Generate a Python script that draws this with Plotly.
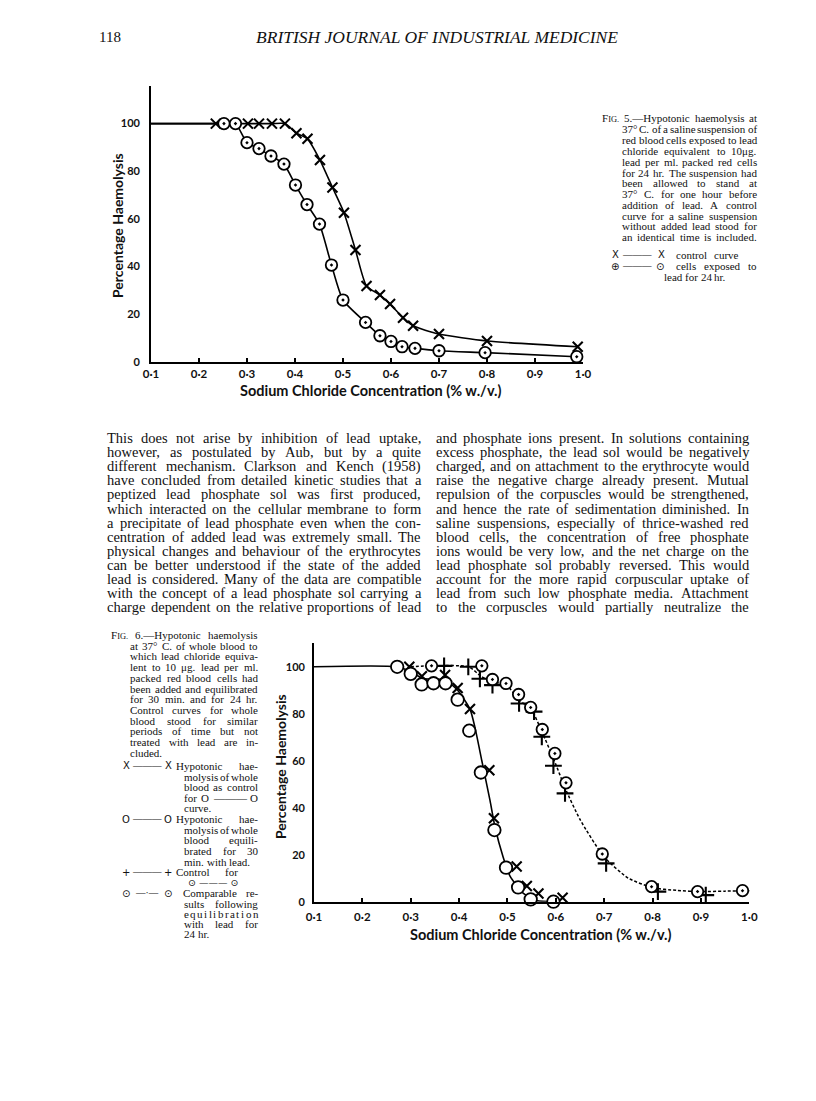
import plotly.graph_objects as go

W_PX, H_PX = 816, 1101
SERIF = "Liberation Serif"
SANS = "Lato"

# ---- Fig. 5 data (sodium chloride %, haemolysis %) ----
F5_LEAD_X = [0.252, 0.276, 0.300, 0.325, 0.350, 0.377, 0.401, 0.425, 0.451, 0.476,
             0.500, 0.547, 0.577, 0.600, 0.623, 0.650, 0.700, 0.796, 0.987]
F5_LEAD_Y = [100, 100, 92, 89.5, 86.4, 83, 74.2, 66, 57.8, 40.6,
             25.9, 16.5, 10.9, 8.5, 6.3, 5.6, 4.6, 3.8, 2.1]
F5_CTRL_X = [0.235, 0.302, 0.325, 0.352, 0.379, 0.403, 0.426, 0.452, 0.478, 0.502,
             0.526, 0.549, 0.577, 0.598, 0.625, 0.646, 0.700, 0.800, 0.989]
F5_CTRL_Y = [100, 100, 100, 100, 100, 96, 93.6, 84.7, 73.2, 62.6,
             46.9, 31.8, 28, 24.2, 18.5, 15.1, 11.6, 8.7, 6.3]

# ---- Fig. 6 data ----
F6_CTRL30_X = [0.297, 0.323, 0.371, 0.397, 0.4225, 0.4625, 0.472, 0.519, 0.540, 0.564, 0.614]
F6_CTRL30_Y = [100, 96, 96.5, 91, 82, 56, 35.5, 15, 6.7, 3.5, 1.7]
F6_LEAD30_X = [0.272, 0.300, 0.3226, 0.347, 0.372, 0.397, 0.421, 0.445, 0.473, 0.497,
               0.522, 0.548, 0.595]
F6_LEAD30_Y = [100, 97, 92.5, 93, 93, 86, 72.8, 55, 30.5, 14.5, 6.1, 1, 0]
F6_CTRL24_X = [0.369, 0.419, 0.443, 0.469, 0.524, 0.555, 0.571, 0.595, 0.619, 0.704,
               0.811, 0.910, 1.010]
F6_CTRL24_Y = [100.4, 100, 94.9, 92.2, 84.4, 80.9, 70.2, 57.9, 46.1, 16.3, 4.3, 2.8, 4.7]
F6_LEAD24_X = [0.343, 0.447, 0.469, 0.497, 0.523, 0.548, 0.572, 0.598, 0.621, 0.696,
               0.798, 0.893, 0.986]
F6_LEAD24_Y = [100.4, 100.4, 94.6, 92.9, 88.2, 82.7, 73.3, 63.1, 50.6, 20.3, 6.4, 4.3, 4.7]
# hand-drawn fitted curves
F6_SOLID_X = [0.1, 0.27, 0.30, 0.325, 0.37, 0.397, 0.4225, 0.433, 0.447, 0.464, 0.474,
              0.491, 0.505, 0.533, 0.56, 0.60]
F6_SOLID_Y = [100, 100, 98, 95, 94.5, 90, 82, 74, 60, 43, 32, 19, 11, 3.5, 0.5, 0]
F6_DASH_X = [0.30, 0.343, 0.42, 0.445, 0.469, 0.497, 0.523, 0.55, 0.572, 0.597, 0.62,
             0.65, 0.70, 0.75, 0.80, 0.85, 0.90, 0.95, 1.01]
F6_DASH_Y = [100, 100.4, 100, 96, 93.5, 92.5, 86, 81.5, 72, 60, 48, 35, 19, 10, 6,
             4.8, 4.3, 4.5, 4.7]
CURVE_START = 0.1  # curves start flat at 100 % from the lowest concentration

X_TICKS = [0.1, 0.2, 0.3, 0.4, 0.5, 0.6, 0.7, 0.8, 0.9, 1.0]
X_TICK_TEXT = ["0·1", "0·2", "0·3", "0·4", "0·5", "0·6", "0·7", "0·8", "0·9", "1·0"]
Y_TICKS = [0, 20, 40, 60, 80, 100]
X_TITLE = "Sodium Chloride Concentration (% w./v.)"
Y_TITLE = "Percentage Haemolysis"

HEADER_PAGE = "118"
HEADER_TITLE = "BRITISH JOURNAL OF INDUSTRIAL MEDICINE"

BODY_LEFT = [
    "This does not arise by inhibition of lead uptake,",
    "however, as postulated by Aub, but by a quite",
    "different mechanism. Clarkson and Kench (1958)",
    "have concluded from detailed kinetic studies that a",
    "peptized lead phosphate sol was first produced,",
    "which interacted on the cellular membrane to form",
    "a precipitate of lead phosphate even when the con-",
    "centration of added lead was extremely small. The",
    "physical changes and behaviour of the erythrocytes",
    "can be better understood if the state of the added",
    "lead is considered. Many of the data are compatible",
    "with the concept of a lead phosphate sol carrying a",
    "charge dependent on the relative proportions of lead",
]
BODY_RIGHT = [
    "and phosphate ions present. In solutions containing",
    "excess phosphate, the lead sol would be negatively",
    "charged, and on attachment to the erythrocyte would",
    "raise the negative charge already present. Mutual",
    "repulsion of the corpuscles would be strengthened,",
    "and hence the rate of sedimentation diminished. In",
    "saline suspensions, especially of thrice-washed red",
    "blood cells, the concentration of free phosphate",
    "ions would be very low, and the net charge on the",
    "lead phosphate sol probably reversed. This would",
    "account for the more rapid corpuscular uptake of",
    "lead from such low phosphate media. Attachment",
    "to the corpuscles would partially neutralize the",
]
CAP5 = [
    "FIG. 5.—Hypotonic haemolysis at",
    "37° C. of a saline suspension of",
    "red blood cells exposed to lead",
    "chloride equivalent to 10μg.",
    "lead per ml. packed red cells",
    "for 24 hr. The suspension had",
    "been allowed to stand at",
    "37° C. for one hour before",
    "addition of lead. A control",
    "curve for a saline suspension",
    "without added lead stood for",
    "an identical time is included.",
]
CAP6 = [
    "FIG. 6.—Hypotonic haemolysis",
    "at 37° C. of whole blood to",
    "which lead chloride equiva-",
    "lent to 10 μg. lead per ml.",
    "packed red blood cells had",
    "been added and equilibrated",
    "for 30 min. and for 24 hr.",
    "Control curves for whole",
    "blood stood for similar",
    "periods of time but not",
    "treated with lead are in-",
    "cluded.",
]

# Times / Liberation Serif advance widths (1/1000 em)
_TW = {" ": 250, "a": 444, "b": 500, "c": 444, "d": 500, "e": 444, "f": 333, "g": 500,
       "h": 500, "i": 278, "j": 278, "k": 500, "l": 278, "m": 778, "n": 500, "o": 500,
       "p": 500, "q": 500, "r": 333, "s": 389, "t": 278, "u": 500, "v": 500, "w": 722,
       "x": 500, "y": 500, "z": 444, "A": 722, "B": 667, "C": 667, "D": 722, "E": 611,
       "F": 556, "G": 722, "H": 722, "I": 333, "J": 389, "K": 722, "L": 611, "M": 889,
       "N": 722, "O": 722, "P": 556, "Q": 722, "R": 667, "S": 556, "T": 611, "U": 722,
       "V": 722, "W": 944, "X": 722, "Y": 722, "Z": 611, ",": 250, ".": 250, "-": 333,
       "(": 333, ")": 333, ";": 278, ":": 278, "—": 1000, "°": 400, "μ": 576}

annotations = []


def px(x, y):
    return x / W_PX, 1 - y / H_PX


def tw(s, size):
    return sum(_TW.get(c, 500) for c in s) / 1000 * size


def put(text, x, y, size, family=SERIF, anchor="left", weight="normal",
        italic=False, angle=0):
    ax, ay = px(x, y)
    annotations.append(dict(
        text=text, x=ax, y=ay, xref="paper", yref="paper", showarrow=False,
        xanchor=anchor, yanchor="middle", borderpad=0, borderwidth=0,
        textangle=angle,
        font=dict(family=family, size=size, color="#111",
                  weight=weight, style="italic" if italic else "normal")))


def line_words(line, x0, x1, y, size, justify=True):
    words = line.split()
    marks, widths = [], []
    for w in words:
        if w == "FIG.":
            small = size * 0.76
            marks.append(f"F<span style='font-size:{small:.1f}px'>IG.</span>")
            widths.append(tw("F", size) + tw("IG.", small))
        else:
            marks.append(w)
            widths.append(tw(w, size))
    if justify and len(words) > 1:
        gap = (x1 - x0 - sum(widths)) / (len(words) - 1)
    else:
        gap = tw(" ", size)
    x = x0
    for m, wd in zip(marks, widths):
        put(m, x, y, size)
        x += wd + gap


# header
put(HEADER_PAGE, 99, 37, 15)
put(HEADER_TITLE, 437, 37, 17.5, anchor="center", italic=True)

# body text in two justified columns
for i, ln in enumerate(BODY_LEFT):
    line_words(ln, 107, 421, 438 + 14.1 * i, 14.5)
for i, ln in enumerate(BODY_RIGHT):
    line_words(ln, 436, 749, 438 + 14.1 * i, 14.5)

# Fig. 5 caption and key
for i, ln in enumerate(CAP5):
    line_words(ln, 602 if i == 0 else 622, 757, 118.5 + 10.8 * i, 11)
put("X", 615, 255, 10, family="DejaVu Sans", anchor="center")
put("———", 637, 255, 9.5, anchor="center")
put("X", 661, 255, 10, family="DejaVu Sans", anchor="center")
line_words("control curve", 676, 738, 255, 11)
put("⊕", 615, 266, 10, family="DejaVu Sans", anchor="center")
put("———", 637, 266, 9.5, anchor="center")
put("⊙", 660, 266, 10, family="DejaVu Sans", anchor="center")
line_words("cells exposed to", 676, 757, 266, 11)
line_words("lead for 24 hr.", 664, 757, 276.5, 11, justify=False)

# Fig. 6 caption and key
for i, ln in enumerate(CAP6):
    line_words(ln, 111 if i == 0 else 130, 258, 635 + 10.7 * i, 11,
               justify=i < len(CAP6) - 1)

KEY6 = [
    (766, "X", "———", "X", "Hypotonic hae-", 176),
    (819, "O", "———", "O", "Hypotonic hae-", 176),
    (872, "+", "———", "+", None, 176),
    (893, "⊙", "—·—", "⊙", "Comparable re-", 183),
]
for y, s1, dash, s2, txt, tx in KEY6:
    put(s1, 126, y, 10, family="DejaVu Sans", anchor="center")
    put(dash, 147, y, 9.5, anchor="center")
    put(s2, 168, y, 10, family="DejaVu Sans", anchor="center")
    if txt:
        line_words(txt, tx, 258, y, 11)
line_words("Control  for", 176, 238, 872, 11)
put("⊙ ——— ⊙", 213, 882.5, 9.5, family="DejaVu Sans", anchor="center")
CONT6 = [
    (776.5, "molysis of whole", True),
    (787, "blood as control", True),
    (797.5, "for O ——— O", True),
    (808, "curve.", False),
    (829.5, "molysis of whole", True),
    (840, "blood equili-", True),
    (850.5, "brated for 30", True),
    (861.5, "min. with lead.", False),
    (903.5, "sults following", True),
    (914, "e q u i l i b r a t i o n", True),
    (924, "with lead for", True),
    (934, "24 hr.", False),
]
for y, txt, just in CONT6:
    line_words(txt, 184, 258, y, 11, justify=just)


def axis_pair(xdom, ydom, yrange, xstand, ystand):
    xa = dict(domain=xdom, range=[0.1, 1.0], tickvals=X_TICKS, ticktext=X_TICK_TEXT,
              ticks="inside", ticklen=4, tickwidth=1.5, tickcolor="black",
              showline=True, linewidth=1.7, linecolor="black", showgrid=False,
              zeroline=False, ticklabelstandoff=xstand, automargin=False,
              tickfont=dict(family=SANS, size=11.5, color="#111", weight="bold"))
    ya = dict(domain=ydom, range=yrange, tickvals=Y_TICKS, ticks="",
              showline=True, linewidth=1.7, linecolor="black", showgrid=False,
              zeroline=False, ticklabelstandoff=ystand, automargin=False,
              tickfont=dict(family=SANS, size=11, color="#111", weight="bold"))
    return xa, ya


fig = go.Figure()

LINE = dict(color="black", width=1.6, shape="spline", smoothing=0.6)
CIRC_DOT = dict(symbol="circle-dot", size=11.5, color="white",
                line=dict(color="black", width=1.8))
CIRC = dict(symbol="circle", size=12.5, color="white", line=dict(color="black", width=1.8))
XMARK = dict(symbol="x-thin-open", size=10, color="black", line=dict(color="black", width=2.1))
PLUS = dict(symbol="cross-thin-open", size=12, color="black",
            line=dict(color="black", width=2.1))

# Fig. 5 traces
fig.add_trace(go.Scatter(x=[CURVE_START] + F5_CTRL_X, y=[100] + F5_CTRL_Y, mode="lines",
                         line=LINE, xaxis="x", yaxis="y", cliponaxis=False))
fig.add_trace(go.Scatter(x=[CURVE_START] + F5_LEAD_X, y=[100] + F5_LEAD_Y, mode="lines",
                         line=LINE, xaxis="x", yaxis="y", cliponaxis=False))
fig.add_trace(go.Scatter(x=F5_CTRL_X, y=F5_CTRL_Y, mode="markers", marker=XMARK,
                         xaxis="x", yaxis="y", cliponaxis=False))
fig.add_trace(go.Scatter(x=F5_LEAD_X, y=F5_LEAD_Y, mode="markers", marker=CIRC_DOT,
                         xaxis="x", yaxis="y", cliponaxis=False))

# Fig. 6 traces
fig.add_trace(go.Scatter(x=F6_SOLID_X, y=F6_SOLID_Y, mode="lines", line=LINE,
                         xaxis="x2", yaxis="y2", cliponaxis=False))
fig.add_trace(go.Scatter(x=F6_DASH_X, y=F6_DASH_Y, mode="lines",
                         line=dict(LINE, width=1.5, dash="3px,2px"),
                         xaxis="x2", yaxis="y2", cliponaxis=False))
fig.add_trace(go.Scatter(x=F6_CTRL30_X, y=F6_CTRL30_Y, mode="markers", marker=XMARK,
                         xaxis="x2", yaxis="y2", cliponaxis=False))
fig.add_trace(go.Scatter(x=F6_LEAD30_X, y=F6_LEAD30_Y, mode="markers", marker=CIRC,
                         xaxis="x2", yaxis="y2", cliponaxis=False))
fig.add_trace(go.Scatter(x=F6_CTRL24_X, y=F6_CTRL24_Y, mode="markers", marker=PLUS,
                         xaxis="x2", yaxis="y2", cliponaxis=False))
fig.add_trace(go.Scatter(x=F6_LEAD24_X, y=F6_LEAD24_Y, mode="markers", marker=CIRC_DOT,
                         xaxis="x2", yaxis="y2", cliponaxis=False))

xa1, ya1 = axis_pair([151 / W_PX, 583 / W_PX], [1 - 361.7 / H_PX, 1 - 86 / H_PX],
                     [0, 115.8], 1, 7)
xa2, ya2 = axis_pair([314 / W_PX, 749.3 / W_PX], [1 - 901.7 / H_PX, 1 - 643.3 / H_PX],
                     [0, 110], 4, 5)
xa2["anchor"] = "y2"
ya2["anchor"] = "x2"

# axis titles
put(X_TITLE, 370, 390, 14.5, family=SANS, anchor="center", weight="bold")
put(Y_TITLE, 117, 225, 14, family=SANS, anchor="center", weight="bold", angle=-90)
put(X_TITLE, 540, 934, 14.5, family=SANS, anchor="center", weight="bold")
put(Y_TITLE, 280, 767, 14, family=SANS, anchor="center", weight="bold", angle=-90)

fig.update_layout(
    width=W_PX, height=H_PX, margin=dict(l=0, r=0, t=0, b=0, autoexpand=False),
    paper_bgcolor="white", plot_bgcolor="white", showlegend=False,
    xaxis=xa1, yaxis=ya1, xaxis2=xa2, yaxis2=ya2,
    annotations=annotations,
)

# drop the browser's default body margin so the figure sits at the page origin
fig.write_html("out.html", config={"displayModeBar": False},
               post_script="document.body.style.margin='0';"
                           "document.body.style.overflow='hidden';")
